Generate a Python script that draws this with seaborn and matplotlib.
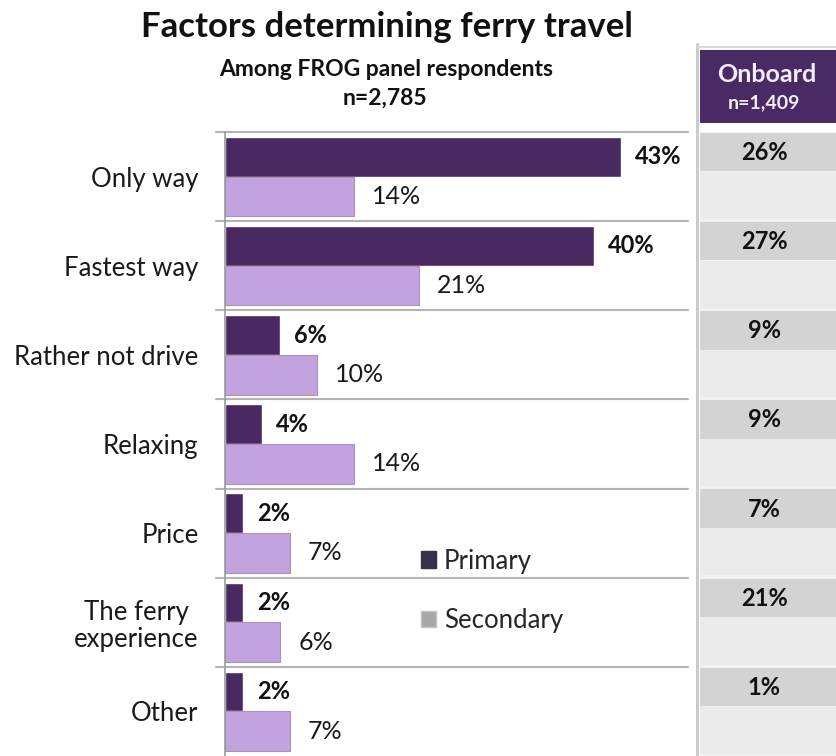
import matplotlib
matplotlib.use("Agg")
import matplotlib.pyplot as plt
import pandas as pd
import seaborn as sns
from matplotlib.patches import Patch, Rectangle

# Survey results (percent of respondents)
categories = ["Only way", "Fastest way", "Rather not drive", "Relaxing",
              "Price", "The ferry\nexperience", "Other"]
primary = [43, 40, 6, 4, 2, 2, 2]
secondary = [14, 21, 10, 14, 7, 6, 7]
onboard = [26, 27, 9, 9, 7, 21, 1]
series = ["Primary", "Secondary"]

df = pd.DataFrame({
    "factor": categories * 2,
    "share": primary + secondary,
    "type": [series[0]] * len(categories) + [series[1]] * len(categories),
})

sns.set_theme(style="white")
plt.rcParams["font.family"] = ["Lato", "DejaVu Sans"]

W, H = 837, 756
fig = plt.figure(figsize=(W / 100, H / 100), dpi=100)


def fx(px):
    return px / W


def fy(px):
    return 1 - px / H


# ---- main bar chart ----
ax = fig.add_axes([fx(225), 0, fx(688) - fx(225), (H - 132) / H])
sns.barplot(data=df, y="factor", x="share", hue="type", hue_order=series,
            palette={"Primary": "#4a2862", "Secondary": "#c3a3df"},
            orient="h", width=0.89, ax=ax, legend=False, saturation=1)
for p in ax.containers[1]:
    p.set_edgecolor("#a893b8")
    p.set_linewidth(0.8)

ax.set_xlim(0, 463 / 9.22)
ax.set_ylim(6.5, -0.5)
ax.set_xlabel("")
ax.set_ylabel("")
ax.set_xticks([])
for s in ["top", "right", "bottom"]:
    ax.spines[s].set_visible(False)
ax.spines["left"].set_color("#9a9a9a")
ax.spines["left"].set_linewidth(1.2)
ax.tick_params(axis="y", length=0, pad=19, labelsize=18.5, labelcolor="#1a1a1a")
for lab in ax.get_yticklabels():
    lab.set_multialignment("center")
    lab.set_linespacing(1.1)

# category separators
for k in range(len(categories)):
    ax.plot([-9 / 463, 1], [k - 0.5, k - 0.5], transform=ax.get_yaxis_transform(),
            color="#b4b4b4", lw=1.5, clip_on=False)

ax.bar_label(ax.containers[0], labels=[f"{v}%" for v in primary], padding=10,
             fontsize=17, fontweight="bold", color="#111111")
ax.bar_label(ax.containers[1], labels=[f"{v}%" for v in secondary], padding=13,
             fontsize=18, color="#1a1a1a")

legend_handles = [Patch(facecolor="#35334a", edgecolor="#35334a"),
                  Patch(facecolor="#a8a8a8", edgecolor="#c4c4c4")]
fig.legend(legend_handles, series, loc="center left",
           bbox_to_anchor=(fx(421), fy(591)), frameon=False, fontsize=18.5,
           handlelength=0.6, handleheight=0.6, handletextpad=0.3,
           labelspacing=1.35, borderpad=0, borderaxespad=0)

# ---- onboard column ----
rp = fig.add_axes([fx(700), 0, 1 - fx(700), (H - 132) / H])
rp.set_xlim(0, 1)
rp.set_ylim(6.5, -0.5)
rp.axis("off")
rp.add_patch(Rectangle((0, -0.5), 1, 7, facecolor="#f1f1f1", edgecolor="none"))
for k, v in enumerate(onboard):
    rp.add_patch(Rectangle((0, k - 0.5 + 0.01), 1, 0.43,
                           facecolor="#d3d3d3", edgecolor="none"))
    rp.add_patch(Rectangle((0, k - 0.055), 1, 0.53,
                           facecolor="#ebebeb", edgecolor="none"))
    rp.text(0.47, k - 0.27, f"{v}%", ha="center", va="center",
            fontsize=17, fontweight="bold", color="#111111")

# column frame and header
fig.add_artist(plt.Line2D([fx(697), fx(697)], [fy(44), 0], color="#c8c8c8", lw=2))
fig.add_artist(plt.Line2D([fx(697), 1], [fy(47), fy(47)], color="#d8d8d8", lw=1.5))
fig.add_artist(Rectangle((fx(700), fy(123)), 1 - fx(700), fy(50) - fy(123),
                         transform=fig.transFigure, facecolor="#4a2a64",
                         edgecolor="none"))
fig.text(fx(767), fy(75), "Onboard", ha="center", va="center", fontsize=18,
         fontweight="bold", color="#f4eefa")
fig.text(fx(764), fy(103), "n=1,409", ha="center", va="center", fontsize=14,
         fontweight="bold", color="#f4eefa")

# titles
fig.text(fx(387), fy(27), "Factors determining ferry travel", ha="center",
         va="center", fontsize=25, fontweight="bold", color="#111111")
fig.text(fx(386), fy(70), "Among FROG panel respondents", ha="center",
         va="center", fontsize=16.5, fontweight="bold", color="#111111")
fig.text(fx(385), fy(98), "n=2,785", ha="center", va="center", fontsize=16.5,
         fontweight="bold", color="#111111")

fig.savefig("out.png", dpi=100)
